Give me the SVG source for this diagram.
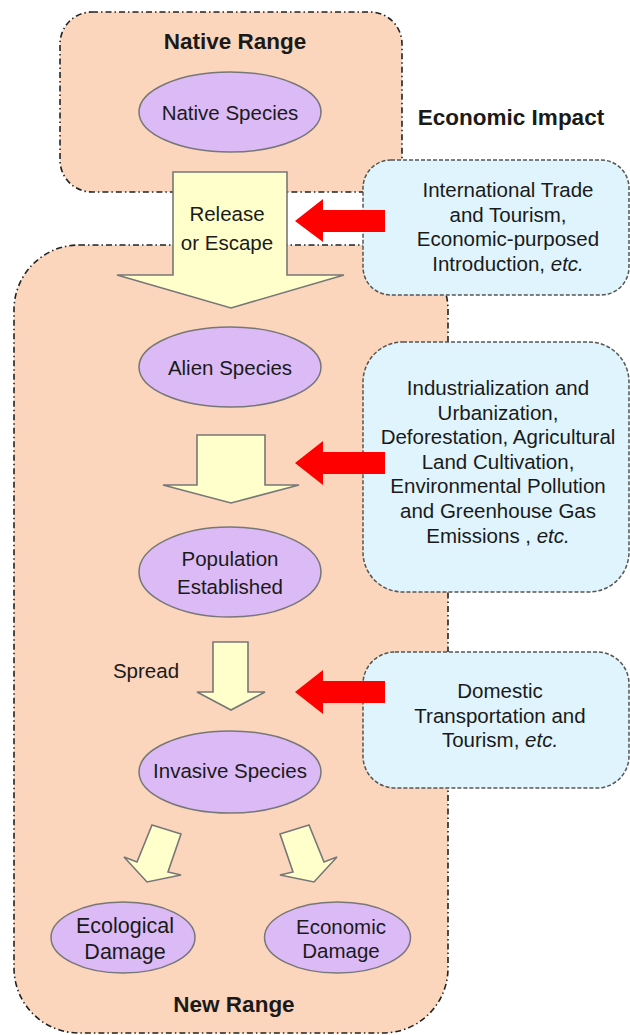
<svg xmlns="http://www.w3.org/2000/svg" width="630" height="1035" viewBox="0 0 630 1035">
<style>
.range{fill:#FBD6BD;stroke:#222;stroke-width:1.6;stroke-dasharray:6 3 1.5 3}
.cause{fill:#DFF4FC;stroke:#555;stroke-width:1.5;stroke-dasharray:4 2}
.sp{fill:#DCBAF6;stroke:#777;stroke-width:1.5}
.ya{fill:#FFFFCC;stroke:#777;stroke-width:1.6;stroke-linejoin:miter}
.ra{fill:#FF0000;stroke:none}
text{font-family:"Liberation Sans",Arial,sans-serif;fill:#1a1a1a;text-anchor:middle}
.t{font-size:20.5px}
.b{font-size:22.5px;font-weight:bold}
</style>
<rect width="630" height="1035" fill="#ffffff"/>
<g id="native-range">
<rect class="range" x="60" y="12" width="342" height="180" rx="32"/>
<text class="b" x="235" y="49">Native Range</text>
</g>
<g id="new-range">
<rect class="range" x="14" y="245" width="434" height="788" rx="65"/>
<text class="b" x="234" y="1012">New Range</text>
</g>
<text id="economic-impact" class="b" x="511" y="125">Economic Impact</text>
<g id="connectors">
<polygon id="release-arrow" class="ya" points="173,172 287,172 287,275 344,275 231,308 117,275 173,275"/>
<polygon class="ya" points="197,435 265,435 265,485 299,485 231,503 163,485 197,485"/>
<polygon class="ya" points="213,642 248,642 248,692 265,692 231,710 197,692 213,692"/>
<polygon class="ya" points="152,825 181,834 168,872 181,875 147,882 124,857 137,862"/>
<polygon class="ya" points="309,825 280,834 293,872 280,875 314,882 337,857 324,862"/>
</g>
<g id="release-label">
<text class="t" x="227" y="221">Release</text>
<text class="t" x="227" y="250">or Escape</text>
</g>
<g id="cause-1">
<rect class="cause" x="363" y="160" width="266" height="135" rx="28"/>
<text class="t" x="508" y="197">International Trade</text>
<text class="t" x="508" y="222">and Tourism,</text>
<text class="t" x="508" y="246">Economic-purposed</text>
<text class="t" x="508" y="271">Introduction, <tspan font-style="italic">etc.</tspan></text>
</g>
<g id="cause-2">
<rect class="cause" x="363" y="342" width="266" height="250" rx="40"/>
<text class="t" x="498" y="395">Industrialization and</text>
<text class="t" x="498" y="420">Urbanization,</text>
<text class="t" x="498" y="444">Deforestation, Agricultural</text>
<text class="t" x="498" y="469">Land Cultivation,</text>
<text class="t" x="498" y="493">Environmental Pollution</text>
<text class="t" x="498" y="518">and Greenhouse Gas</text>
<text class="t" x="498" y="543">Emissions , <tspan font-style="italic">etc.</tspan></text>
</g>
<g id="cause-3">
<rect class="cause" x="363" y="652" width="266" height="136" rx="32"/>
<text class="t" x="500" y="698">Domestic</text>
<text class="t" x="500" y="723">Transportation and</text>
<text class="t" x="500" y="747">Tourism, <tspan font-style="italic">etc.</tspan></text>
</g>
<g id="impact-arrows">
<polygon class="ra" points="385,210 323,210 323,199 295,221 323,242 323,232 385,232"/>
<polygon class="ra" points="385,452 323,452 323,441 295,463 323,485 323,474 385,474"/>
<polygon class="ra" points="385,681 323,681 323,670 295,692 323,714 323,703 385,703"/>
</g>
<g id="native-species">
<ellipse class="sp" cx="230" cy="112" rx="91" ry="40"/>
<text class="t" x="230" y="120">Native Species</text>
</g>
<g id="alien-species">
<ellipse class="sp" cx="230" cy="367" rx="91" ry="40"/>
<text class="t" x="230" y="375">Alien Species</text>
</g>
<g id="population-established">
<ellipse class="sp" cx="230" cy="572" rx="91" ry="45"/>
<text class="t" x="230" y="566">Population</text>
<text class="t" x="230" y="594">Established</text>
</g>
<text id="spread-label" class="t" x="146" y="678">Spread</text>
<g id="invasive-species">
<ellipse class="sp" cx="230" cy="772" rx="91" ry="41"/>
<text class="t" x="230" y="778">Invasive Species</text>
</g>
<g id="ecological-damage">
<ellipse class="sp" cx="123" cy="937.5" rx="72" ry="35.5"/>
<text x="125" y="933" font-size="21.5">Ecological</text>
<text x="125" y="958.5" font-size="21.5">Damage</text>
</g>
<g id="economic-damage">
<ellipse class="sp" cx="337.5" cy="937.5" rx="73" ry="35.5"/>
<text x="341" y="934" font-size="20.5">Economic</text>
<text x="341" y="958" font-size="20.5">Damage</text>
</g>
</svg>
